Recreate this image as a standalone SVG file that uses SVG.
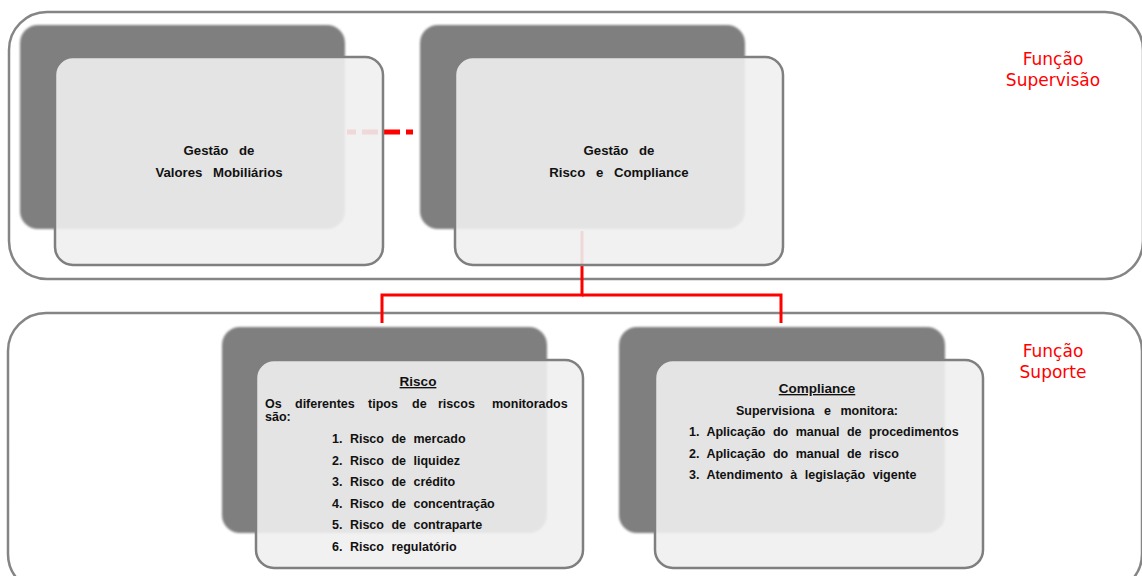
<svg xmlns="http://www.w3.org/2000/svg" width="1142" height="576" viewBox="0 0 1142 576">
<defs>
<filter id="soft" x="-5%" y="-5%" width="110%" height="110%"><feGaussianBlur stdDeviation="1"/></filter>
<style>
.container{fill:#ffffff;stroke:#858585;stroke-width:2.5}
.shadow{fill:#7f7f7f;filter:url(#soft)}
.card{fill:#f0f0f0;fill-opacity:0.9;stroke:#7f7f7f;stroke-width:2.5}
.conn{fill:none;stroke:#ff0000;stroke-width:3;stroke-linejoin:miter}
.dash{fill:none;stroke:#ff0000;stroke-width:5;stroke-dasharray:16 6;stroke-dashoffset:7}
.lbl{font-family:"DejaVu Sans",Verdana,sans-serif;font-size:17px;fill:#ff0000;text-anchor:middle}
.big{font-family:"Liberation Sans",Arial,sans-serif;font-size:13.2px;font-weight:bold;fill:#111;text-anchor:middle;word-spacing:7px}
.t{font-family:"Liberation Sans",Arial,sans-serif;font-size:12.5px;font-weight:bold;fill:#111;word-spacing:4px}
.ttl{font-family:"Liberation Sans",Arial,sans-serif;font-size:13.5px;font-weight:bold;fill:#111;text-anchor:middle;text-decoration:underline}
</style>
</defs>
<g id="container-supervisao">
<rect class="container" x="9" y="12" width="1134" height="267" rx="38"/>
<text class="lbl" x="1053" y="65">Função</text>
<text class="lbl" x="1053" y="86">Supervisão</text>
</g>
<g id="container-suporte">
<rect class="container" x="8" y="313" width="1134" height="279" rx="38"/>
<text class="lbl" x="1053" y="357">Função</text>
<text class="lbl" x="1053" y="378">Suporte</text>
</g>
<g id="connectors">
<path class="dash" d="M347,132 H413"/>
<path class="conn" d="M582,231 V295 H382 V323"/>
<path class="conn" d="M582,295 H781 V323"/>
</g>
<g id="node-valores">
<rect class="shadow" x="20" y="25" width="325" height="204" rx="18"/>
<rect class="card" x="55" y="57" width="328" height="208" rx="18"/>
<text class="big" x="219" y="155">Gestão de</text>
<text class="big" x="219" y="177">Valores Mobiliários</text>
</g>
<g id="node-risco-compliance">
<rect class="shadow" x="420" y="25" width="325" height="204" rx="18"/>
<rect class="card" x="455" y="57" width="328" height="208" rx="18"/>
<text class="big" x="619" y="155">Gestão de</text>
<text class="big" x="619" y="177">Risco e Compliance</text>
</g>
<g id="node-risco">
<rect class="shadow" x="222" y="327" width="325" height="206" rx="18"/>
<rect class="card" x="256" y="360" width="327" height="208" rx="18"/>
<text class="ttl" x="418" y="386">Risco</text>
<text class="t" y="408"><tspan x="265">Os</tspan><tspan x="295">diferentes</tspan><tspan x="368">tipos</tspan><tspan x="412">de</tspan><tspan x="438">riscos</tspan><tspan x="492">monitorados</tspan></text>
<text class="t" x="265" y="421">são:</text>
<text class="t" x="332" y="443">1. Risco de mercado</text>
<text class="t" x="332" y="464.6">2. Risco de liquidez</text>
<text class="t" x="332" y="486.2">3. Risco de crédito</text>
<text class="t" x="332" y="507.8">4. Risco de concentração</text>
<text class="t" x="332" y="529.4">5. Risco de contraparte</text>
<text class="t" x="332" y="551">6. Risco regulatório</text>
</g>
<g id="node-compliance">
<rect class="shadow" x="619" y="327" width="326" height="206" rx="18"/>
<rect class="card" x="655" y="360" width="328" height="208" rx="18"/>
<text class="ttl" x="817" y="393">Compliance</text>
<text class="t" x="817" y="415" text-anchor="middle" style="word-spacing:6px">Supervisiona  e monitora:</text>
<text class="t" x="689" y="436">1. Aplicação do manual de procedimentos</text>
<text class="t" x="689" y="457.5">2. Aplicação do manual de risco</text>
<text class="t" x="689" y="479">3. Atendimento  à legislação vigente</text>
</g>
</svg>
